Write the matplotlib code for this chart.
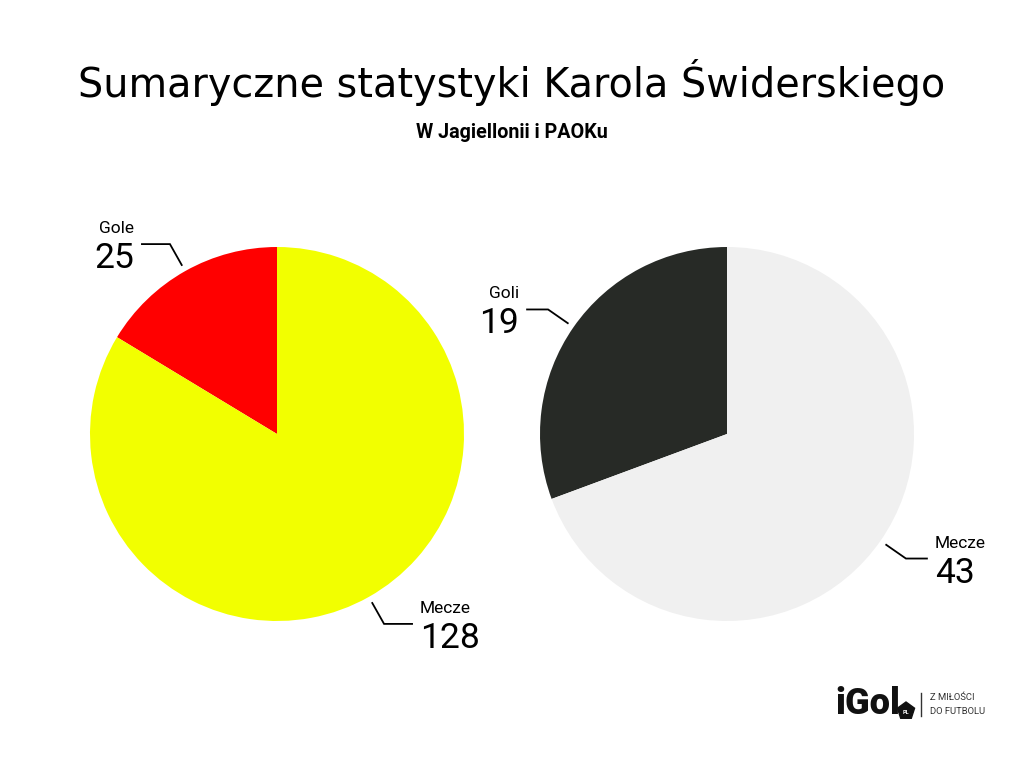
import numpy as np
import matplotlib.pyplot as plt
from matplotlib.patches import RegularPolygon

# ── dane ──────────────────────────────────────────────────────────────────────
kategorie_lewa = ['Gole', 'Mecze']
wartosci_lewa = [25, 128]
kolory_lewa = ['#ff0000', '#f2ff00']

kategorie_prawa = ['Goli', 'Mecze']
wartosci_prawa = [19, 43]
kolory_prawa = ['#272a26', '#f0f0f0']

tytul = 'Sumaryczne statystyki Karola Świderskiego'
podtytul = 'W Jagiellonii i PAOKu'

# ── figura: osie w pikselach (y w górę) ─────────────────────────────────────
W, H = 1024, 768
fig = plt.figure(figsize=(W / 100, H / 100), dpi=100)
ax = fig.add_axes([0, 0, 1, 1])
ax.set_xlim(0, W)
ax.set_ylim(0, H)
ax.set_aspect('equal')
ax.axis('off')

R = 187


def pie_z_etykietami(cx, cy, kategorie, wartosci, kolory, dl_poziom):
    wedges, _ = ax.pie(wartosci, colors=kolory, startangle=90,
                       counterclock=True, center=(cx, cy), radius=R,
                       wedgeprops=dict(linewidth=0))
    for w, nazwa, v in zip(wedges, kategorie, wartosci):
        kat = np.deg2rad((w.theta1 + w.theta2) / 2)
        c, s = np.cos(kat), np.sin(kat)
        x0, y0 = cx + 194 * c, cy + 194 * s
        x1, y1 = cx + 218 * c, cy + 218 * s
        znak = 1 if c > 0 else -1
        x2 = x1 + znak * dl_poziom
        ax.plot([x0, x1, x2], [y0, y1, y1], color='black', lw=1.3,
                solid_joinstyle='miter')
        ha = 'left' if znak > 0 else 'right'
        xt = x2 + znak * 8
        ax.text(xt, y1 + 8, nazwa, ha=ha, va='bottom', fontsize=12.5,
                family='Roboto', color='black')
        ax.text(xt, y1 + 2, str(v), ha=ha, va='top', fontsize=25.5,
                family='Roboto', color='black')


pie_z_etykietami(277, H - 434, kategorie_lewa, wartosci_lewa, kolory_lewa, 28)
pie_z_etykietami(727, H - 434, kategorie_prawa, wartosci_prawa, kolory_prawa, 21)
ax.set_xlim(0, W)
ax.set_ylim(0, H)

# ── tytuły ───────────────────────────────────────────────────────────────────
ax.text(W / 2, H - 83, tytul, ha='center', va='center', fontsize=28.6,
        family='DejaVu Sans', color='black')
ax.text(W / 2 - 0.5, H - 133, podtytul, ha='center', va='center', fontsize=14.2,
        family='Roboto', weight='bold', color='black')

# ── logo ─────────────────────────────────────────────────────────────────────
ax.text(835, H - 704, 'iGol', ha='left', va='center', fontsize=26,
        family='Roboto', weight='heavy', color='#111111')
ax.add_patch(RegularPolygon((906, H - 711), 5, radius=9, color='#111111'))
ax.text(906, H - 712, 'PL', ha='center', va='center', fontsize=4,
        family='Roboto', weight='bold', color='white')
ax.plot([921, 921], [H - 693, H - 716], color='#333333', lw=1)
ax.text(930, H - 698, 'Z MIŁOŚCI', ha='left', va='center', fontsize=6.8,
        family='Roboto', color='#333333')
ax.text(930, H - 711, 'DO FUTBOLU', ha='left', va='center', fontsize=6.8,
        family='Roboto', color='#333333')

fig.savefig('out.png', dpi=100, facecolor='white')
